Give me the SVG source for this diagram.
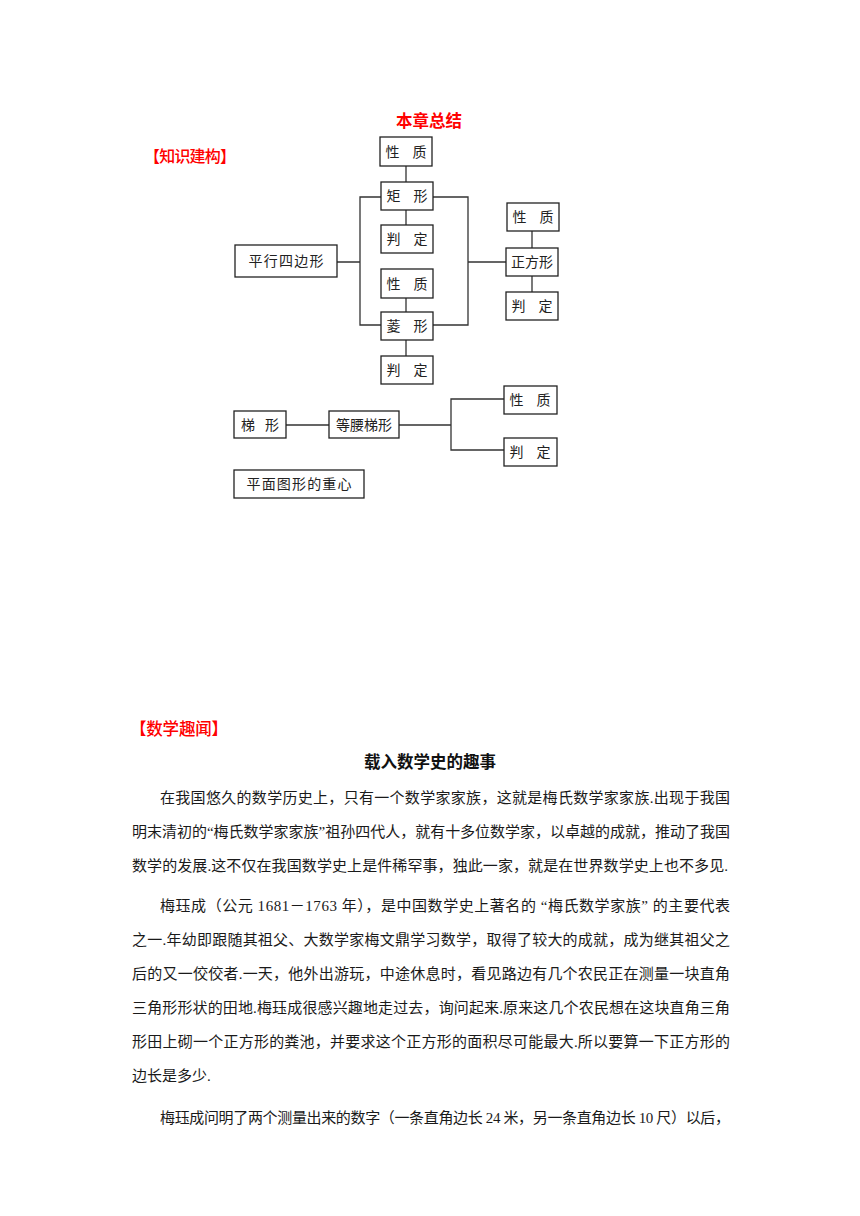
<svg xmlns="http://www.w3.org/2000/svg" width="860" height="1216" viewBox="0 0 860 1216">
<style>
.bg{fill:#fff}
.box{fill:#fff;stroke:#222;stroke-width:1.3}
.lbl{font-family:"Liberation Serif","Noto Sans CJK SC",serif;font-size:14px;fill:#222;text-anchor:middle}
.con{fill:none;stroke:#333;stroke-width:1.3}
.red{font-family:"Liberation Sans","Noto Sans CJK SC",sans-serif;fill:#f00}
.body{font-family:"Liberation Serif","Noto Sans CJK SC",serif;font-size:15px;fill:#1a1a1a}
.title{font-family:"Liberation Sans","Noto Sans CJK SC",sans-serif;font-size:16.5px;font-weight:bold;fill:#111;text-anchor:middle}
</style>
<rect class="bg" x="0" y="0" width="860" height="1216"/>
<text class="red" x="396" y="127" style="font-size:16.5px;font-weight:bold">本章总结</text>
<text class="red" x="144" y="162" style="font-size:16px;font-weight:500" textLength="92" lengthAdjust="spacing">【知识建构】</text>

<g id="connectors">
<path class="con" d="M406 166V182M406 210V225M406 298V312M406 340V356"/>
<path class="con" d="M337 262H360M381 197H360V325H381"/>
<path class="con" d="M433 197H468V325H433M468 262H506"/>
<path class="con" d="M532 231V248M532 276V292"/>
<path class="con" d="M286 425H329M399 425H451M504 399H451V450H504"/>
</g>

<g id="n-xingzhi1"><rect class="box" x="380" y="137" width="52" height="29"/><text class="lbl" x="406" y="157" textLength="41" lengthAdjust="spacing">性 质</text></g>
<g id="n-juxing"><rect class="box" x="381" y="182" width="52" height="28"/><text class="lbl" x="407" y="201" textLength="41" lengthAdjust="spacing">矩 形</text></g>
<g id="n-panding1"><rect class="box" x="381" y="225" width="52" height="28"/><text class="lbl" x="407" y="244" textLength="41" lengthAdjust="spacing">判 定</text></g>
<g id="n-pingxing"><rect class="box" x="235" y="245" width="102" height="32"/><text class="lbl" x="286" y="266" textLength="75" lengthAdjust="spacing">平行四边形</text></g>
<g id="n-xingzhi2"><rect class="box" x="381" y="269" width="52" height="29"/><text class="lbl" x="407" y="289" textLength="41" lengthAdjust="spacing">性 质</text></g>
<g id="n-lingxing"><rect class="box" x="381" y="312" width="52" height="28"/><text class="lbl" x="407" y="331" textLength="41" lengthAdjust="spacing">菱 形</text></g>
<g id="n-panding2"><rect class="box" x="381" y="356" width="52" height="28"/><text class="lbl" x="407" y="375" textLength="41" lengthAdjust="spacing">判 定</text></g>
<g id="n-xingzhi3"><rect class="box" x="507" y="203" width="52" height="28"/><text class="lbl" x="533" y="222" textLength="41" lengthAdjust="spacing">性 质</text></g>
<g id="n-zhengfang"><rect class="box" x="506" y="248" width="52" height="28"/><text class="lbl" x="532" y="267">正方形</text></g>
<g id="n-panding3"><rect class="box" x="506" y="292" width="52" height="28"/><text class="lbl" x="532" y="311" textLength="41" lengthAdjust="spacing">判 定</text></g>
<g id="n-tixing"><rect class="box" x="234" y="411" width="52" height="27"/><text class="lbl" x="260" y="430" textLength="38" lengthAdjust="spacing">梯 形</text></g>
<g id="n-dengyao"><rect class="box" x="329" y="411" width="70" height="27"/><text class="lbl" x="364" y="430">等腰梯形</text></g>
<g id="n-xingzhi4"><rect class="box" x="504" y="386" width="53" height="28"/><text class="lbl" x="530" y="405" textLength="41" lengthAdjust="spacing">性 质</text></g>
<g id="n-panding4"><rect class="box" x="504" y="438" width="53" height="28"/><text class="lbl" x="530" y="457" textLength="41" lengthAdjust="spacing">判 定</text></g>
<g id="n-zhongxin"><rect class="box" x="234" y="470" width="130" height="28"/><text class="lbl" x="299" y="489" textLength="105" lengthAdjust="spacing">平面图形的重心</text></g>

<text class="red" x="130" y="735" style="font-size:16.5px;font-weight:500" textLength="98" lengthAdjust="spacing">【数学趣闻】</text>
<text class="title" x="430" y="768">载入数学史的趣事</text>
<text class="body" x="160" y="803" textLength="570" lengthAdjust="spacing">在我国悠久的数学历史上，只有一个数学家家族，这就是梅氏数学家家族.出现于我国</text>
<text class="body" x="132" y="837" textLength="598" lengthAdjust="spacing">明末清初的“梅氏数学家家族”祖孙四代人，就有十多位数学家，以卓越的成就，推动了我国</text>
<text class="body" x="132" y="871" textLength="596" lengthAdjust="spacing">数学的发展.这不仅在我国数学史上是件稀罕事，独此一家，就是在世界数学史上也不多见.</text>
<text class="body" x="160" y="911" textLength="570" lengthAdjust="spacing">梅珏成（公元 1681－1763 年），是中国数学史上著名的 “梅氏数学家族” 的主要代表</text>
<text class="body" x="132" y="945" textLength="598" lengthAdjust="spacing">之一.年幼即跟随其祖父、大数学家梅文鼎学习数学，取得了较大的成就，成为继其祖父之</text>
<text class="body" x="132" y="979" textLength="598" lengthAdjust="spacing">后的又一佼佼者.一天，他外出游玩，中途休息时，看见路边有几个农民正在测量一块直角</text>
<text class="body" x="132" y="1013" textLength="598" lengthAdjust="spacing">三角形形状的田地.梅珏成很感兴趣地走过去，询问起来.原来这几个农民想在这块直角三角</text>
<text class="body" x="132" y="1047" textLength="598" lengthAdjust="spacing">形田上砌一个正方形的粪池，并要求这个正方形的面积尽可能最大.所以要算一下正方形的</text>
<text class="body" x="132" y="1081">边长是多少.</text>
<text class="body" x="160" y="1123" textLength="570" lengthAdjust="spacing">梅珏成问明了两个测量出来的数字（一条直角边长 24 米，另一条直角边长 10 尺）以后，</text>
</svg>
